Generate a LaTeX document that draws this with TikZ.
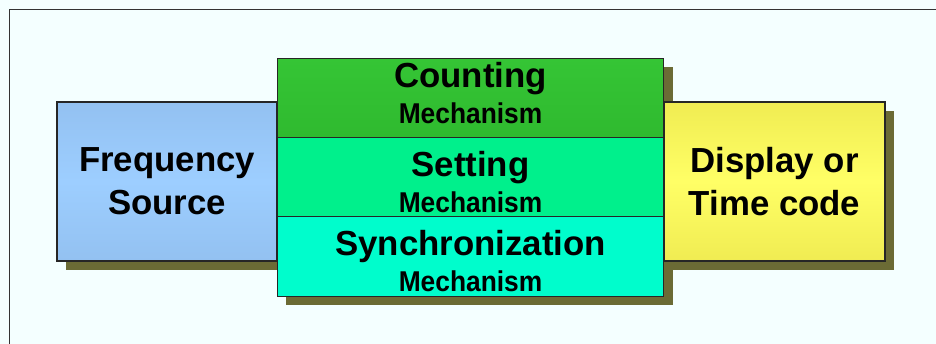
\documentclass[tikz,border=0pt]{standalone}
\usepackage{fontspec}
\setmainfont{Liberation Sans}
\newfontfamily\mechfont[FakeStretch=0.92]{Liberation Sans}
\usetikzlibrary{positioning,shadows}

\definecolor{bgcol}{HTML}{F4FFFF}
\definecolor{shadowcol}{HTML}{6B6B35}
\definecolor{freqtop}{HTML}{93C1F1}
\definecolor{freqmid}{HTML}{9DCEFF}
\definecolor{counttop}{HTML}{35C535}
\definecolor{countbot}{HTML}{2FBA2F}
\definecolor{settcol}{HTML}{00F08C}
\definecolor{synccol}{HTML}{00FDCC}
\definecolor{disptop}{HTML}{F0EC52}
\definecolor{dispmid}{HTML}{FFFF66}

% #1 strut above the first line, #2 strut under the second line, #3 the mechanism name
\newcommand{\mechlabel}[3]{\rule{0pt}{#1}#3\\[-4pt]{\mechfont\fontsize{16.3}{24.4}\selectfont\bfseries Mechanism\rule[-#2]{0pt}{0pt}}}

\begin{document}
\begin{tikzpicture}[x=0.02cm, y=-0.02cm,
        box/.style={draw=black!85, line width=0.6pt, rectangle, align=center, inner sep=0pt, outer sep=0pt,
            font=\fontsize{19.8}{24.4}\selectfont\bfseries,
            general shadow={fill=shadowcol, shadow xshift=0.18cm, shadow yshift=-0.18cm}},
        side/.style={box, minimum width=4.4cm, minimum height=3.18cm},
        cell/.style={box, minimum width=7.74cm, minimum height=1.587cm}
    ]
\fill[bgcol] (0,0) rectangle (936,344);
        \useasboundingbox (0,0) rectangle (936,344);
        \draw[black!80, line width=0.6pt] (9.5,344) -- (9.5,9.5) -- (936,9.5);

        \node[side, top color=freqtop, bottom color=freqtop, middle color=freqmid] (freq) at (167,181.5) {Frequency\\Source};

        \node[cell, top color=counttop, bottom color=countbot] (count) at (470.5,97.7) {\mechlabel{15.9pt}{7.4pt}{Counting}};
        \node[cell, fill=settcol, below=0pt of count] (sett) {\mechlabel{20.1pt}{0.6pt}{Setting}};
        \node[cell, fill=synccol, below=0pt of sett] (sync) {\mechlabel{20.1pt}{0.1pt}{Synchronization}};

        \node[side, minimum width=4.42cm, top color=disptop, bottom color=disptop, middle color=dispmid] (disp) at (774.5,181.5) {Display or\\Time code};

    \end{tikzpicture}
\end{document}
